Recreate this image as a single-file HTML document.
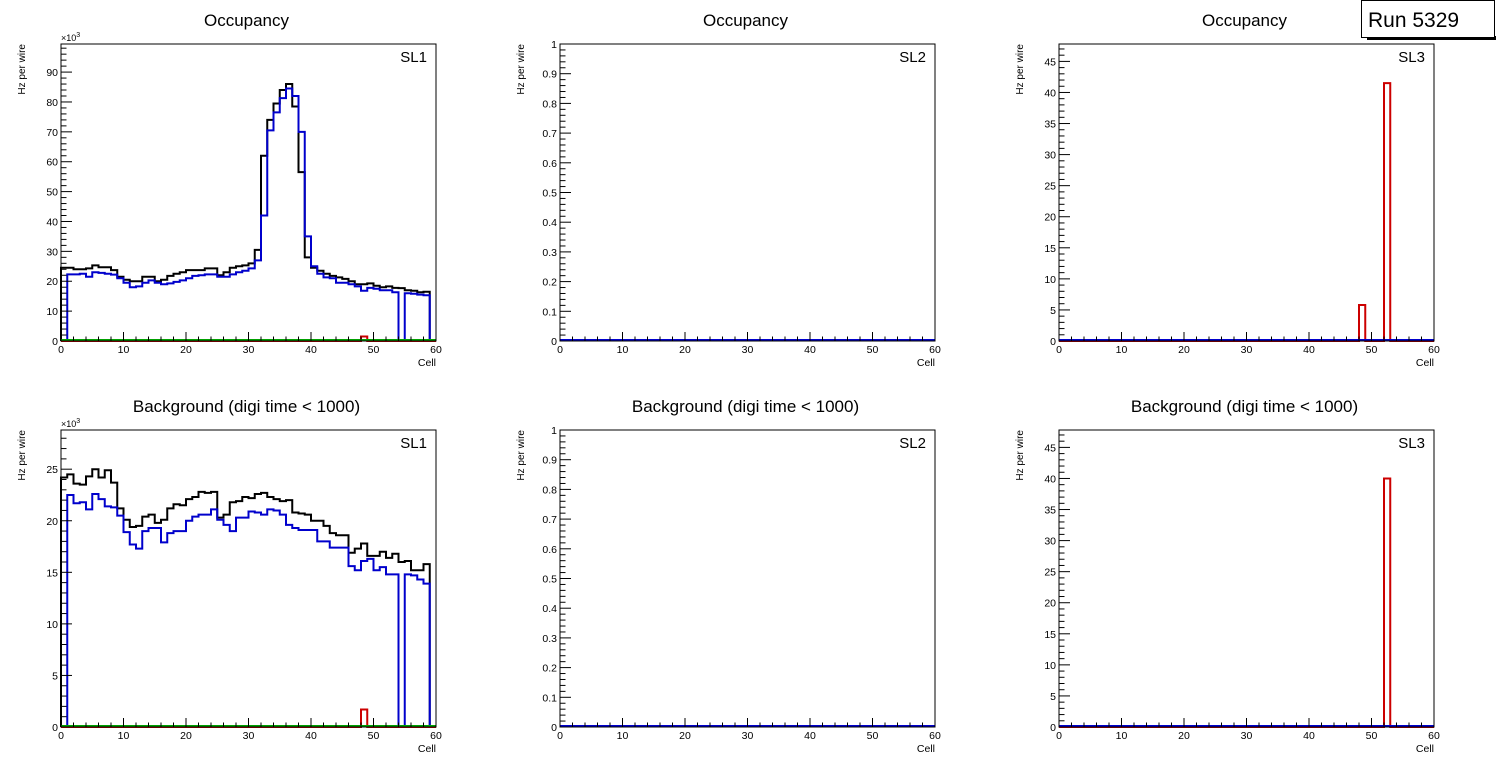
<!DOCTYPE html>
<html><head><meta charset="utf-8"><style>
body{margin:0;background:#fff;width:1496px;height:772px;overflow:hidden;font-family:"Liberation Sans",sans-serif}
svg{display:block}
</style></head><body>
<svg id="c" width="1496" height="772" xmlns="http://www.w3.org/2000/svg" font-family="Liberation Sans, sans-serif"></svg>
<script>
const cells = 60;
const sl1OccBlack = [24.5,24.5,24,24,24.3,25.3,24.7,24.7,23.7,21.5,20.5,20,20,21.5,21.5,20,20.5,21.8,22.5,23,23.7,23.7,23.7,24.3,24.3,22,23,24.5,25,25.3,26,30.5,62,74,79.5,84,86,78.5,56.5,28,24.5,23.5,22.5,21.8,21.3,20.8,20,19,19,19.3,18.5,18,18.3,17.8,17.7,17,16.8,16.3,16.5,0];
const sl1OccBlue = [0,22.3,22.3,22.5,21.5,23,22.8,22.5,22.2,21,19.5,18,18.3,19.5,20.3,19.5,19,19.3,19.8,20.3,21,21.8,22,22.3,22.3,21.5,21.5,22.3,23,23.5,24.3,27,42,70.5,76.5,81.3,84.5,82,70,35,25,22.5,21.3,21,19.5,19.5,19,18.3,16.8,17.8,17.5,17,17,16.3,0,16,15.8,15.5,15.3,0];
const sl1OccRed = {48:1.5};
const sl1BkgBlack = [24.2,24.5,23.6,23.5,24.3,25,24.2,24.9,23.7,21.2,20.1,19.4,19.5,20.4,20.6,19.8,20.1,21.2,21.6,21.5,22.1,22.3,22.8,22.7,22.8,20.3,20.6,21.8,21.9,22.3,22.2,22.6,22.7,22.3,22.1,21.9,22,20.8,20.7,20.6,20,20,19.5,18.8,18.6,18.6,16.9,17.3,17.8,16.6,16.6,17,16.4,16.8,16,16.1,15.2,15.2,15.8,0];
const sl1BkgBlue = [0,22.5,21.7,21.8,21.1,22.6,22.1,21.4,21.3,20.5,18.9,17.7,17.3,19,19.3,19.3,17.9,18.8,19,19,20,20.4,20.6,20.6,21.1,20.1,19.6,19,20.3,20.3,20.9,20.8,20.6,21.1,21,20.6,19.6,19.3,19.1,19.1,19.1,18,18,17.4,17.4,17.4,15.6,15.2,16.1,16.3,15.2,15.5,14.8,14.8,0,14.8,14.7,14.3,13.9,0];
const sl1BkgRed = {48:1.7};
const sl3OccRed = {48:5.8,52:41.5};
const sl3BkgRed = {52:40};
const xTicks = [0,10,20,30,40,50,60];

const svg=document.getElementById('c');
const NS='http://www.w3.org/2000/svg';
function mk(tag,attrs,parent){const e=document.createElementNS(NS,tag);for(const k in attrs)e.setAttribute(k,attrs[k]);(parent||svg).appendChild(e);return e;}

function hist(g,vals,color,xs,ys,name){
  let d='';let first=true;
  for(let i=0;i<cells;i++){
    const v=vals[i]||0;const x0=xs(i),x1=xs(i+1),y=ys(v);
    d+=(first?'M'+x0+','+ys(0)+'L'+x0+','+y:'L'+x0+','+y)+'L'+x1+','+y;first=false;
  }
  d+='L'+xs(cells)+','+ys(0);
  const p=mk('path',{d:d,fill:'none',stroke:color,'stroke-width':2},g);
  
  
}
function sparse(obj){const a=[];for(let i=0;i<cells;i++)a.push(obj[i]||0);return a;}

function pad(px,py,title,sl,ymax,major,minorN,fmt,exp,series,pname){
  const L=px+61,R=px+436,T=py+44,B=py+341;
  const g=mk('g',{});
  
  
  const xs=v=>L+(R-L)*v/60, ys=v=>B-(B-T)*v/ymax;
  const t=mk('text',{x:(L+R)/2-2,y:py+26,'font-size':17,'text-anchor':'middle'},g);t.textContent=title;
  
  // series
  series.forEach(s=>hist(g,s[0],s[1],xs,ys,s[2]));
  // green zero line
  const gl=mk('line',{x1:L,x2:R,y1:B-1,y2:B-1,stroke:'#00a000','stroke-width':2},g);
  
  if(series.length===0||pname.indexOf('sl1')<0){gl.setAttribute('stroke','#0000cc');}
  const fr=mk('rect',{x:L,y:T,width:R-L,height:B-T,fill:'none',stroke:'#000','stroke-width':1},g);
  
  // x ticks
  for(let v=0;v<=60;v+=2){const big=v%10===0;mk('line',{x1:xs(v),x2:xs(v),y1:B,y2:B-(big?9:4.5),stroke:'#000'},g);}
  xTicks.forEach(v=>{const e=mk('text',{x:xs(v),y:B+12,'font-size':10.5,'text-anchor':'middle'},g);e.textContent=v;
    });
  const xl=mk('text',{x:R,y:B+25,'font-size':10.5,'text-anchor':'end'},g);xl.textContent='Cell';
  
  // y ticks
  const minor=major/minorN;
  for(let k=0;k*minor<=ymax+1e-9;k++){const v=k*minor;const big=k%minorN===0;mk('line',{x1:L,x2:L+(big?11:5.5),y1:ys(v),y2:ys(v),stroke:'#000'},g);
    if(big){const e=mk('text',{x:L-3,y:ys(v)+4,'font-size':10.5,'text-anchor':'end'},g);e.textContent=fmt(v);
      }}
  const yl=mk('text',{x:0,y:0,'font-size':10,'text-anchor':'end',transform:'translate('+(px+25)+','+T+') rotate(-90)'},g);yl.textContent='Hz per wire';
  
  if(exp){const e=mk('text',{x:L,y:T-3,'font-size':9},g);e.innerHTML='×10<tspan dy="-4" font-size="7">3</tspan>';
    }
  const s=mk('text',{x:R-9,y:T+18,'font-size':15,'text-anchor':'end'},g);s.textContent=sl;
  
}
const zero=new Array(60).fill(0);
const i0=v=>String(Math.round(v));
const d1=v=>v===0?'0':(v>=1?'1':v.toFixed(1));
pad(0,0,'Occupancy','SL1',99.4,10,5,i0,true,[[sl1OccBlack,'#000','black-series'],[sl1OccBlue,'#0000cc','blue-series'],[sparse(sl1OccRed),'#cc0000','red-series']],'pad-sl1-occupancy');
pad(499,0,'Occupancy','SL2',1,0.1,5,d1,false,[],'pad-sl2-occupancy');
pad(998,0,'Occupancy','SL3',47.8,5,5,i0,false,[[sparse(sl3OccRed),'#cc0000','red-series']],'pad-sl3-occupancy');
pad(0,386,'Background (digi time < 1000)','SL1',28.8,5,5,i0,true,[[sl1BkgBlack,'#000','black-series'],[sl1BkgBlue,'#0000cc','blue-series'],[sparse(sl1BkgRed),'#cc0000','red-series']],'pad-sl1-background');
pad(499,386,'Background (digi time < 1000)','SL2',1,0.1,5,d1,false,[],'pad-sl2-background');
pad(998,386,'Background (digi time < 1000)','SL3',47.8,5,5,i0,false,[[sparse(sl3BkgRed),'#cc0000','red-series']],'pad-sl3-background');
// run box
const rb=mk('g',{});


mk('rect',{x:1367,y:36,width:129,height:4,fill:'#000'},rb);
mk('rect',{x:1361.5,y:0.5,width:133,height:37,fill:'#fff',stroke:'#000'},rb);
const rt=mk('text',{x:1368,y:27,'font-size':21},rb);rt.textContent='Run 5329';
</script>
</body></html>
